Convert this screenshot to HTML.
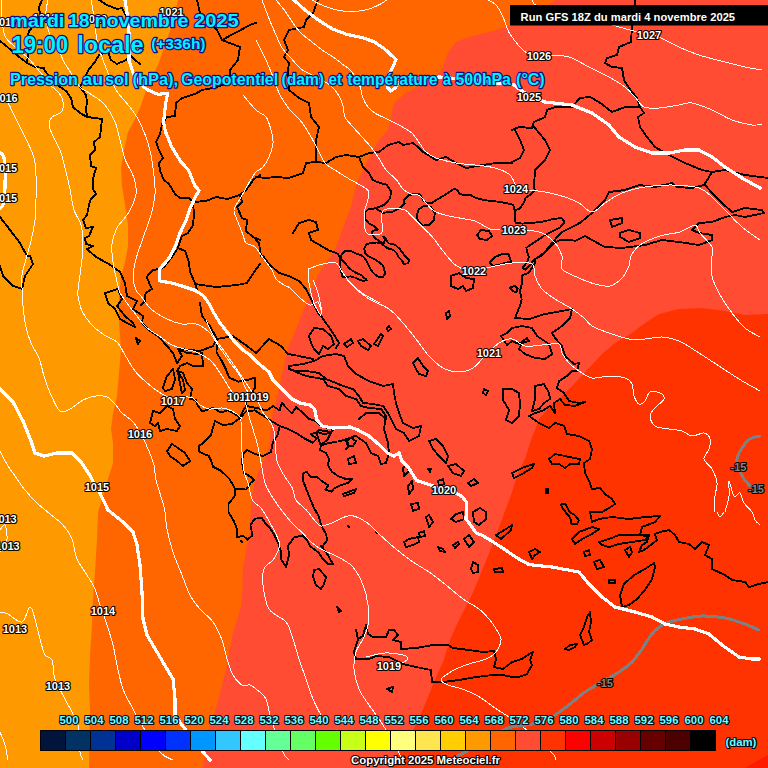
<!DOCTYPE html>
<html><head><meta charset="utf-8"><title>Meteociel GFS</title>
<style>
html,body{margin:0;padding:0;background:#ff6600;overflow:hidden}
svg{display:block}
text{font-family:"Liberation Sans",sans-serif;font-weight:bold}
.ttl{fill:#00f4ff;stroke:#0c0c90;stroke-width:2.4px;paint-order:stroke;stroke-linejoin:round}
.lbl{font-size:11px;fill:#fff;stroke:#000;stroke-width:2.2px;paint-order:stroke;stroke-linejoin:round;text-anchor:middle}
.glb{font-size:11px;fill:#858585;stroke:#000;stroke-width:2px;paint-order:stroke;stroke-linejoin:round;text-anchor:middle}
.cb{font-size:11.3px;fill:#70ffff;stroke:#00081c;stroke-width:2.2px;paint-order:stroke;stroke-linejoin:round;text-anchor:middle}
.iso{shape-rendering:crispEdges;fill:none;stroke:#fff;stroke-width:1;stroke-linejoin:round;stroke-linecap:round}
.geo{shape-rendering:crispEdges;fill:none;stroke:#fff;stroke-width:3.2;stroke-linejoin:round;stroke-linecap:round}
.tmp{shape-rendering:crispEdges;fill:none;stroke:#808080;stroke-width:3;stroke-linejoin:round;stroke-linecap:round}
.cst{shape-rendering:crispEdges;fill:none;stroke:#000;stroke-width:1.9;stroke-linejoin:round;stroke-linecap:round}
</style></head>
<body>
<svg width="768" height="768" viewBox="0 0 768 768">
<g id="fields">
<rect x="0" y="0" width="768" height="768" fill="#ff6600"/>
<path fill="#ff9900" d="M0,0 L178,0 L172,25 L165,45 L158,65 L148,85 L140,108 L135,119 L128,132 L124,150 L121,168 L122,186 L125,205 L128,225 L128,246 L125,262 L121,277 L119,296 L119,323 L121,349 L119,373 L117,396 L113,413 L111,429 L113,443 L113,463 L108,479 L103,496 L98,512 L97,539 L95,572 L93,599 L92,625 L90,655 L89,685 L90,712 L89,768 L0,768 Z"/>
<path fill="#ff4c33" d="M555,0 L549,5 L530,17 L510,26 L489,32 L469,37 L456,42 L448,53 L443,67 L433,80 L406,93 L394,103 L391,117 L388,130 L379,140 L373,150 L368,160 L363,170 L358,180 L354,193 L351,207 L346,220 L341,233 L336,247 L331,256 L319,273 L309,296 L302,314 L295,332 L288.5,346.7 L284.4,363 L281,380 L277,397 L272,417 L270.5,430 L270,444 L264.6,459 L258.5,472 L254.6,483 L251.5,500 L250.4,516.7 L249.4,533 L246.2,550 L244.6,560 L242.8,566.6 L242.4,592 L241,606.7 L237.3,619.4 L233.6,630 L227,665 L222,685 L217,705 L210,725 L207,745 L203,768 L768,768 L768,0 Z"/>
<path fill="#ff3300" d="M768,314 L745,315 L725,311 L702,308 L679,309 L659,314 L645,323 L632,333 L615,343 L602,354 L589,368 L575,383 L562,396 L549,408 L539,419 L535,430 L531,440 L525,458.8 L516.7,477.5 L510.4,496.7 L504.2,513.3 L498,530 L491.7,546.7 L483.3,567.5 L473,592.5 L464.6,609 L456.2,625.8 L450,640 L443,662 L434,682 L426,702 L416,725 L404,745 L394,759 L389,768 L768,768 Z"/>
<path fill="#ff1a00" d="M745,768 L759,760 L768,755 L768,768 Z"/>
</g>
<g id="coast" class="cst">
<path d="M0,41 L5,45 L11,50 L18,56 L27,63 L35,67 L44,68 L45,71 L50,77 L56,84 L66,91 L71,98 L73,107 L80,113 L87,117 L102,119 L100,137 L94,142 L95,150 L90,155 L91,166 L96,168 L93,179 L93,189 L96,194 L91,199 L89,205 L87,215 L83,220 L86,228 L93,227 L89,236 L85,238 L86,244 L93,246 L87,249 L96,257 L109,264 L120,272 L125,283 L127,296 L137,301 L133,309 L143,316 L142,323 L150,331 L158,336 L167,346 L173,353 L177,363 L182,356 L178,349 L187,353 L197,354 L202,353 L203,366 L193,366 L187,363 L180,366 L177,371 L183,373 L187,383 L192,389 L190,399 L196,400 L198,406 L202.5,411.5 L213,408 L221,412.5 L227.5,410.4 L233.8,413.5 L240,417.7 L243,411 L246,406 L256.7,408 L267,410.4 L273,406 L279.6,410.4 L281.7,403 L288,409.4 L292,413.5 L296,407 L302.5,412.5 L308.8,418.8 L315,420.8 L323,427 L333.8,429 L331,432 L318.8,430 L316.7,434 L320.8,445.6 L327,443.5 L337.5,441.5 L348,439 L354,436 M42,0 L39,7 L40,15 L35,24 L29,31 L27,38 L28,55 L27,62 M87,117 L86,109 L87,102 L86,95 L80,87 L86,75 L89,69 L95,62 L99,55 L108,52 L111,60 L117,64 L126,60 L131,56 L135,60 L140,64 M99,0 L107,5 L117,9 L122,8 L126,16 M0,217 L10,230 L20,243 L27,256 L30,256 L33,264 L25,276 L22,289 L13,286 L3,276 L0,266 M202,90 L195,94 L182,98 L176,103 L175,116 L167,117 L162,124 L160,134 L156,142 L159,150 L163,158 L159,163 L160,171 L164,180 L169,184 L175,194 L180,198 L189,198 L193,202 L206,201 L216,197 L227,199 L240,195 L247,189 L254,179 L260,175 M197,0 L200,13 L217,30 L222,40 L240,47 L238,60 L230,70 L230,83 L213,88 L202,90 M193,202 L194,215 L193,225 L188,233 L182,236 L178,248 L185,251 L189,262 L190,272 L195,283 L197,290 M178,248 L172,257 L164,267 L159,269 L153,270 L146.7,276.7 L150,285 L152,289 L145.6,293 L144.6,301.7 L141,305 M240,195 L242,202 L237,207 L242,218 L247,220 L246,231 L253,237 L260,240 M195,284 L216,287 L237,285 L247,283 L254,272 L260,264 M222,40 L235,33 L250,25 L256,23 M318,0 L313,13 L306,20 L304,27 L289,30 L284,40 L288,50 L284,57 L289,63 L288,70 L289,90 L299,98 L309,103 L311,117 L319,127 L316,140 L316,160 M256,177 L266,178 L276,177 L289,178 L303,173 L306,163 L316,162 L326,163 L336,157 L346,155 L359,157 L369,153 L379,152 L388,145 L399,142 L403,145 L413,143 L418,147 L423,152 L436,160 L446,157 L456,163 L466,168 L483,165 L496,163 L512,163 M359,157 L363,167 L369,173 L372.8,180 L379.2,182.7 L386.5,184.6 L391,191 L390.2,198.2 L384.7,204.6 L375.6,208.3 L368.3,209.2 L364.6,212.8 L365.5,219.2 L369.2,223.7 L374.7,226.5 L377.7,229.5 L373.5,230.5 L371.5,233 L373.5,236.2 L376.7,239.4 L380.8,242 L384,243 L385,239.4 L383.4,236.8 L385,237.3 L387,241.5 L389.2,243.5 L393.3,244 L396.5,246 L399.6,248.8 L402.7,253 L405.8,257 L409,260.2 L408,263.3 L403.8,263.9 L401.7,260.2 L398.5,257 L396.5,253 L393.3,249.8 L389.2,248.8 L386,247.2 L384,245.6 L380.8,242.8 L376.7,242.5 L370.4,243 L366.2,244.6 L364.2,248.8 L365.2,253 L368.3,256 L373.5,258.6 L378.8,261.8 L383,265.4 L384.5,270.6 L385,273.8 L383,277 L379.8,277.4 L376.7,275.8 L373.5,273.2 L371,270 L369.4,266.5 L367.3,262.3 L364.7,258 L361,255 L355.8,253.4 L350.6,250.8 L345.4,250.8 L342.3,253.4 L340.7,257 L342.3,260.2 L345.4,263.3 L348.5,267.5 L352.7,271 L358,273.8 L362.6,275.8 L363,277.4 L366.2,279.2 L366.8,280.2 L363,280.8 L359,279.5 L354.8,277.6 L350.6,276.4 L346.5,276.7 L342.3,276.9 L341.2,271.7 L339.7,265.4 L339.7,257 L338,254 L335,252.4 L330,251 L323,247 L311,240 L309,233 L318,230 L316,222 L309,220 L299,223 L293,233 M375.6,208.3 L382.9,212.8 L392,211.9 L399.3,208.3 L404.7,203.7 L403.8,200 L408.4,195.5 L415.7,193.7 L420.2,194.6 L423,200 L426.6,202.8 L432,202.8 L439.4,198.2 L446.7,193.7 L454,189 L457.6,190 L459.4,193.7 L464.9,195.5 L470,194.6 L475.6,197.8 L483.4,200 L491.2,201 L499,201.7 L506.9,203.3 L513,204.8 L514.7,210.3 L515.5,222.8 L522.5,223.6 L533.4,222.8 L544.4,221.3 L553.8,218.9 L561.6,218 L564.7,222 L560,227.5 L552,231.4 L544.4,235.3 L538,240 L531.9,243.9 L526.4,247.8 L527.2,252.5 L528.8,257.2 L527.2,261.9 L522.5,268 L525.6,269.7 L530.3,265 L533.4,260.3 L538,257.2 L544.4,252.5 L550.6,244.7 L553.8,241.6 L556.9,236.9 L563,231.4 M489.7,262.7 L494.4,257.2 L502.2,254 L508.4,254 L510,258.8 L511.6,261.9 L505.3,262.7 L499,265 L492.8,265.8 L489.7,262.7 M510,287.7 L514.7,286 L517.8,288.4 L516.2,292.3 L512.3,290.8 L510,287.7 M514.7,210.3 L519.4,208.8 L524,202.5 L525.6,197.8 L530.3,194.7 L535,190 M416.6,215 L419,209 L425,205.5 L431,207 L434.8,213 L434,220 L429,225 L423,225.6 L418,221 L416.6,215 M477,235 L481,230 L489,231 L492,236 L487,240 L480,239 L477,235 M256,240 L259,243 L261,256 M635,0 L635,5 M632,26 L631,42 L619,47 L617,55 L607,58 L605,63 L612,67 L622,68 L624,80 L629,88 L637,98 L640,107 L644,113 L638,117 L640,127 L647,137 L655,147 L669,155 L685,163 L702,170 L712,172 L725,170 L745,175 L768,178 M512,130 L519,127 L532,128 L534,122 L545,117 L547,110 L555,107 L572,107 L580,98 L590,97 L599,102 L612,112 L625,107 L640,107 M515,130 L520,140 L524,150 L520,158 L512,162 M534,127 L545,140 L550,150 L545,160 L535,170 L534,187 L535,190 M563,231.4 L572.5,226.7 L580,222.8 L592,213 L605,200 L609,192 L625,190 L639,185 L655,187 L672,183 L677,187 L692,188 L704,185 L709,177 L712,172 M705,185 L712,193 L722,203 L732,212 L745,208 L762,210 L764,213 L745,217 L735,215 L725,217 L712,222 L699,223 L692,230 L699,233 L712,235 L712,240 L699,245 L679,242 L662,240 L645,245 L622,248 L605,247 L592,240 L585,236 L580,238.4 L575.6,240.8 L569.4,240 L560,240 L553.8,243 L547.5,249.4 L541.2,255.6 L535,259 L535,263.4 L528.8,272.8 L522.5,275 L521.7,283.8 L520,291.6 L521.7,299.4 L520,305.6 L517,313 L515,318 L529,319 L545,314 L562,311 L572,309 L570,318 L562,326 L552,333 L555,338 L562,346 L565,356 L574,364 L579,363 L577,371 L572,371 L567,376 L559,381 L557,388 L564,393 L569,401 L579,403 L585,402 L575,406 L565,405 L560,399 L554,403 L555,413 L550,406 L542,411 L535,413 L529,416 L539,423 L549,428 L555,423 L564,426 L567,434 L579,436 L589,441 L592,449 L590,459 L584,463 L585,473 L590,483 L592,489 L600,488 L605,494 L612,499 L615,504 L609,508 L602,512 L590,512 L592,522 L599,519 L612,517 L629,519 L645,517 L660,516 L655,522 L642,527 L640,535 L649,535 L647,542 L642,545 L639,552 L644,550 L652,544 L657,540 L655,534 L660,532 L669,530 L675,535 L679,542 L689,544 L695,549 L702,542 L709,545 L705,555 L712,559 L712,569 L725,575 L732,580 L745,582 L749,587 L759,584 L768,582 M610,220 L622,218 L622,223 L612,227 L610,220 M620,233 L629,230 L640,233 L640,238 L629,242 L620,237 L620,233 M105,293 L118,289 L122,299 L117,306 L125,316 L133,323 L135,327 L127,323 L120,319 L115,309 L108,303 L105,293 M136,338 L140,341 L138,344 L136,338 M163,388 L167,376 L173,369 L175,379 L172,389 L165,391 L163,388 M178,372 L183,380 L185,390 L182,393 L180,384 L178,372 M150,423 L153,411 L160,413 L167,406 L173,409 L175,419 L180,426 L177,431 L167,429 L160,431 L158,423 L155,426 L150,423 M167,451 L172,444 L178,448 L185,453 L190,461 L183,466 L177,461 L170,456 L167,451 M240,418 L231.7,424 L223,425 L215,420.8 L210.8,435.4 L204.6,441.7 L199.4,445.8 L199.4,452 L208.8,456 L211.9,462.5 L212.9,466.7 L221,470.8 L229.6,479 L234.8,488.5 L234.8,495.8 L228.5,504 L228.5,512.5 L233.8,520.8 L236.9,529 L236.9,537.5 L243,535.4 L247.3,539.6 L252.5,535.4 L250.4,525 L254.6,518.8 L261.9,517.7 L265,523 L269,527 L273.3,533 L277.5,541.7 L280.6,550 L281,559 L286,567 L289,555 L288,545.8 L294,537.5 L302.5,535.4 L306.7,539.6 L309.8,545.8 L315,550 L318,552 L323,559 L328,564 L333,564 L326,552 L321,545.8 L323,545.8 L327.5,539.6 L325.4,533 L321,525 L319,516.7 L314,508 L309.8,498 L305.6,487.5 L302.5,479 L303.5,473 L306.7,472 L310.8,477 L317,477 L323,482 L328.5,485.4 L325.4,489.6 L331.7,491.7 L333.8,488.5 L340,485.4 L348,483 L352,479 L345.8,479 L337.5,475.8 L332,471.7 L328,465.4 L329,459 L326,453 L320,450 L321,444.8 L327.5,439.6 L331.7,431 L325.4,434.4 L317,432 L310.8,434.4 L317,438.5 L313,442.7 L304.6,438.5 L296,433 L288,429 L279.6,426 L271,420.8 L263,415.6 L254.6,410.4 L246,411.5 L240,418 M234.8,488.5 L246,489.6 L250.4,483 L254.6,480 L248,475 L244,473 L242,462.5 L243,454 L247.3,450 L254.6,454 L263,456 L271,452 L273,441.7 L277.5,435.4 L279.6,426 M200,303 L202,316 L210,326 L217,339 L213,346 L200,351 L180,349 M217,339 L233,336 L247,346 L256,353 L269,339 L281,346 L288,354 L299,356 L313,359 M217,339 L216.5,352.5 L221.7,360.8 L225.8,369 L229,377.5 L238.3,381.7 L248.8,379.6 L255,377.5 L255,388 L250.8,394 L246.7,400.4 L245.6,406.7 M241,541 L242,542 M261,256 L263,256 L269,264 L279,273 L289,276 L299,281 L306,289 L313,303 L318,313 L321,316 L326,323 L333,333 L339,343 L336,348 M309,336 L314,328 L323,329 L331,336 L334,344 L328,349 L323,346 L319,354 L314,349 L311,343 L309,336 M289,366 L303,364 L314,361 L323,356 L336,354 L344,356 L348,366 L356,374 L369,381 L383,386 L393,384 L394,393 L396,403 L399,413 L403,423 L413,428 L421,426 L419,436 L409,441 L404,433 L396,429 L391,419 L388,413 L383,406 L373,404 L363,403 L359,396 L353,389 L343,386 L336,383 L326,379 L319,373 L306,371 L296,371 L289,369 L289,366 M289,369 L306,376 L323,379 L328,386 L339,389 L346,396 L356,399 L361,406 L369,408 L381,409 L386,416 L384,429 L388,443 L389,453 L386,463 L381,464 L378,456 L371,453 L366,443 L356,436 L346,439 L349,446 L346,449 M359,419 L366,413 L379,413 L386,419 M344,344 L351,339 L353,343 L347,347 L344,344 M358,341 L363,339 L371,346 L368,350 L361,346 L358,341 M374,344 L381,334 L383,336 L378,346 L374,344 M387,328 L389,326 L391,329 L388,331 L387,328 M413,363 L418,358 L423,366 L428,371 L426,376 L419,374 L416,369 L413,363 M451,276 L459,273 L466,278 L474,279 L473,288 L466,291 L463,286 L458,289 L451,286 L451,276 M446,313 L449,311 L450,316 L447,319 L446,313 M484,389 L488,391 L486,395 L483,393 L484,389 M429,441 L436,439 L443,446 L448,456 L446,463 L439,456 L433,449 L429,441 M448,466 L456,464 L464,471 L461,476 L453,473 L448,466 M468,483 L474,479 L478,483 L471,486 L468,483 M403,468 L406,464 L409,471 L404,476 L403,468 M408,486 L412,481 L413,489 L409,494 L408,486 M438,481 L443,479 L444,484 L439,486 L438,481 M428,469 L431,469 L430,472 L428,469 M411,504 L418,503 L419,509 L413,511 L411,504 M346,441 L351,438 L356,441 L353,446 L348,446 L346,441 M343,494 L356,489 L354,493 L344,496 L343,494 M348,459 L354,456 L356,463 L349,464 L348,459 M501,336 L507,333 L512,328 L522,326 L532,328 L537,336 L549,344 L552,354 L545,359 L535,358 L525,354 L519,349 L522,343 L529,341 L527,338 L519,344 L512,341 L507,345 L501,336 M503,389 L512,389 L519,393 L520,403 L519,416 L512,423 L506,420 L509,410 L503,400 L503,389 M549,459 L555,454 L565,456 L574,458 L580,459 L579,464 L570,464 L565,468 L559,464 L552,464 L549,459 M512,473 L522,468 L534,464 L532,468 L522,474 L514,478 L512,473 M546,489 L548,489 L548,493 L546,493 L546,489 M535,386 L544,384 L549,393 L550,399 L544,403 L539,409 L532,411 L535,399 L535,386 M314,570 L319,569 L326,577 L324,584 L321,589 L316,585 L313,577 L314,570 M337,607 L341,611 L339,612 L337,607 M356,630 L358,639 L354,652 L356,659 L369,659 L376,656 L389,657 L403,664 L416,667 L431,670 L432,682 L443,682 L459,680 L476,677 L493,675 L503,675 L512,677 L519,677 L527,674 L532,665 L530,660 L533,652 L529,654 L522,659 L512,662 L503,669 L494,667 L496,659 L494,651 L483,652 L469,650 L453,648 L448,645 L433,645 L416,648 L401,649 L401,642 L393,640 L398,635 L394,630 L389,630 L386,637 L373,637 L368,634 L366,625 L363,636 L358,639 M387,689 L393,687 L392,692 L387,689 M404,542 L409,539 L418,537 L419,542 L413,545 L406,547 L404,542 M419,533 L424,531 L425,536 L420,537 L419,533 M426,517 L429,515 L433,522 L429,527 L426,517 M438,547 L443,549 L445,552 L440,551 L438,547 M453,545 L458,542 L459,544 L455,548 L453,545 M464,539 L469,535 L474,542 L469,547 L464,539 M451,519 L456,514 L463,512 L464,519 L456,522 L451,519 M473,512 L474,522 L479,525 L486,519 L486,512 L480,508 L473,512 M496,535 L506,529 L512,525 L511,530 L501,539 L496,535 M471,569 L473,562 L478,565 L478,572 L473,573 L471,569 M494,569 L502,568 L503,572 L495,572 L494,569 M348,526 L349,527 M376,532 L377,533 M561,504.6 L565.2,503.5 L569.4,511.9 L574.6,515 L578.8,520.2 L576.7,524.4 L571.5,524.4 L570.4,518.1 L566.2,512.9 L563,508.8 L561,504.6 M572,539 L579,532 L592,527 L599,529 L592,534 L582,539 L575,544 L572,539 M599,542 L609,539 L619,535 L635,535 L649,536 L645,540 L632,542 L619,544 L609,547 L602,545 L599,542 M625,550 L630,547 L632,552 L629,557 L625,550 M584,552 L589,550 L590,555 L585,556 L584,552 M594,562 L600,560 L604,567 L597,569 L594,562 M529,552 L535,549 L540,552 L535,555 L532,559 L529,552 M609,580 L615,580 L615,583 L609,583 L609,580 M622,607 L620,595 L624,584 L634,575 L645,569 L654,563 L655,567 L652,579 L645,590 L637,599 L629,605 L622,607 M584,645 L580,635 L584,627 L587,617 L590,612 L591,622 L589,632 L592,640 L587,644 L584,645 M565,649 L570,645 L577,644 L575,647 L569,650 L565,649"/>
</g>
<g id="isobars" class="iso">
<path d="M0,93 C1.3,94.7 5.3,98.7 8,103 C10.7,107.3 13,113 16,119 C19,125 23,132.5 26,139 C29,145.5 32.3,151.8 34,158 C35.7,164.2 35.7,169.2 36,176 C36.3,182.8 36.2,191.7 36,199 C35.8,206.3 35.8,213 35,220 C34.2,227 32.5,234.5 31,241 C29.5,247.5 27.5,253.3 26,259 C24.5,264.7 22.7,270.2 22,275 C21.3,279.8 21.8,282.8 22,288 C22.2,293.2 22.3,299.5 23,306 C23.7,312.5 24.7,320.8 26,327 C27.3,333.2 28.8,337.8 31,343 C33.2,348.2 36.8,352.5 39,358 C41.2,363.5 42,369.8 44,376 C46,382.2 48.3,389.2 51,395 C53.7,400.8 56.8,408.7 60,411 C63.2,413.3 66.2,410.8 70,409 C73.8,407.2 78.7,402.2 83,400 C87.3,397.8 92,396.5 96,396 C100,395.5 103.8,395.7 107,397 C110.2,398.3 112.5,401.3 115,404 C117.5,406.7 119,410 122,413 C125,416 129.7,418.2 133,422 C136.3,425.8 139.5,431.5 142,436 C144.5,440.5 146,444.2 148,449 C150,453.8 152.7,459.8 154,465 C155.3,470.2 154.5,473.7 156,480 C157.5,486.3 161.5,497.7 163,503 C164.5,508.3 164.3,507.7 165,512 C165.7,516.3 165.7,522.3 167,529 C168.3,535.7 170.5,544.3 173,552 C175.5,559.7 179.2,567.8 182,575 C184.8,582.2 187,589.3 190,595 C193,600.7 196.2,604.5 200,609 C203.8,613.5 209.3,616.8 213,622 C216.7,627.2 219.7,633.8 222,640 C224.3,646.2 225.2,653.2 227,659 C228.8,664.8 230.5,670.7 233,675 C235.5,679.3 239.2,683.3 242,685 C244.8,686.7 247.7,684.3 250,685 C252.3,685.7 253.3,686.7 256,689 C258.7,691.3 263.5,694 266,699 C268.5,704 268.2,710.2 271,719 C273.8,727.8 280,745.2 283,752 C286,758.8 288,758.7 289,760 M2,0 C2,3 1.5,12 2,18 C2.5,24 2.8,31.2 5,36 C7.2,40.8 11.2,43.3 15,47 C18.8,50.7 23.8,53.8 28,58 C32.2,62.2 36.2,67.3 40,72 C43.8,76.7 48.5,83.2 51,86 C53.5,88.8 53.2,87 55,89 C56.8,91 60.8,94.3 62,98 C63.2,101.7 63.7,107.8 62,111 C60.3,114.2 54.2,114.8 52,117 C49.8,119.2 49,121.2 49,124 C49,126.8 50.2,129.7 52,134 C53.8,138.3 57.8,144.3 60,150 C62.2,155.7 63.3,161.5 65,168 C66.7,174.5 68.5,182 70,189 C71.5,196 72.2,204 74,210 C75.8,216 79.5,219 81,225 C82.5,231 83,239 83,246 C83,253 81.8,259.7 81,267 C80.2,274.3 78.5,285.2 78,290 C77.5,294.8 77.3,292.5 78,296 C78.7,299.5 79.8,306.3 82,311 C84.2,315.7 87.3,320 91,324 C94.7,328 99.7,332 104,335 C108.3,338 113.5,338.7 117,342 C120.5,345.3 122,350.2 125,355 C128,359.8 131.5,366.5 135,371 C138.5,375.5 142,378.5 146,382 C150,385.5 154.5,389.2 159,392 C163.5,394.8 168.5,398.2 173,399 C177.5,399.8 182.7,397.2 186,397 C189.3,396.8 190.7,396.7 193,398 C195.3,399.3 197.3,403.2 200,405 C202.7,406.8 205.3,408.5 209,409 C212.7,409.5 218.2,407.7 222,408 C225.8,408.3 228.8,409.3 232,411 C235.2,412.7 239.5,416.3 241,418 C242.5,419.7 240.8,415.3 241,421 C241.2,426.7 241.5,443.7 242,452 C242.5,460.3 243,465.8 244,471 C245,476.2 246.6,478.2 248,483 C249.4,487.8 250.3,495.8 252.5,500 C254.7,504.2 258.2,504.5 261,508 C263.8,511.5 266.6,516.8 269,521 C271.4,525.2 273.6,529.2 275.4,533 C277.2,536.8 279.2,540.6 279.6,543.8 C280,547 278.6,549.3 277.5,552 C276.4,554.7 275.2,557.2 273,560 C270.8,562.8 265.7,564.8 264,569 C262.3,573.2 262.2,578.3 263,585 C263.8,591.7 265.2,602.8 269,609 C272.8,615.2 282,617 286,622 C290,627 290.8,632.8 293,639 C295.2,645.2 296.8,652.3 299,659 C301.2,665.7 303.7,672.3 306,679 C308.3,685.7 310.2,692.3 313,699 C315.8,705.7 321.3,715.7 323,719 M48,0 C47.7,1.8 46.2,6.8 46,11 C45.8,15.2 46,20.2 47,25 C48,29.8 49.8,35.3 52,40 C54.2,44.7 58,49.3 60,53 C62,56.7 62.2,58.7 64,62 C65.8,65.3 68.3,68.8 71,73 C73.7,77.2 77,83.7 80,87 C83,90.3 85,90.2 89,93 C93,95.8 99.7,99.2 104,104 C108.3,108.8 112.3,116 115,122 C117.7,128 118.3,133.8 120,140 C121.7,146.2 122.7,152.7 125,159 C127.3,165.3 132.2,172.2 134,178 C135.8,183.8 136.8,188.3 136,194 C135.2,199.7 132.2,206.3 129,212 C125.8,217.7 119.8,222.7 117,228 C114.2,233.3 112.7,238.3 112,244 C111.3,249.7 112.3,256.5 113,262 C113.7,267.5 115,272.3 116,277 C117,281.7 118,286.8 119,290 C120,293.2 119.7,292.5 122,296 C124.3,299.5 129,305.8 133,311 C137,316.2 141.7,322.8 146,327 C150.3,331.2 154.7,333 159,336 C163.3,339 167.2,342.7 172,345 C176.8,347.3 184,348.8 188,350 C192,351.2 192.2,350.2 196,352 C199.8,353.8 206.7,357 211,361 C215.3,365 218.5,370.8 222,376 C225.5,381.2 229.2,388.5 232,392 C234.8,395.5 236.8,395.3 239,397 C241.2,398.7 243.1,398 245,402 C246.9,406 248.5,414.4 250.4,421 C252.3,427.6 254.9,434.8 256.7,441.7 C258.5,448.6 259.6,455.6 261,462.5 C262.4,469.4 263,477.1 265,483 C267,488.9 270.2,493.4 273,498 C275.8,502.6 278.5,506.2 281.7,510.4 C284.9,514.6 288.5,519.2 292,523 C295.5,526.8 299.4,529.9 302.5,533 C305.6,536.1 308.1,539.2 310.8,541.7 C313.6,544.2 315.5,546 319,548 C322.5,550 328.2,552.3 331.7,554 C335.2,555.7 336.4,555.8 340,558 C343.6,560.2 349.2,562.5 353,567 C356.8,571.5 360.5,578.7 363,585 C365.5,591.3 367.2,598.3 368,605 C368.8,611.7 368.8,619.3 368,625 C367.2,630.7 365,634.5 363,639 C361,643.5 357.5,647 356,652 C354.5,657 353.5,662.8 354,669 C354.5,675.2 356.5,683 359,689 C361.5,695 365.3,699.5 369,705 C372.7,710.5 376.7,715.3 381,722 C385.3,728.7 391,737.8 395,745 C399,752.2 403.3,761.7 405,765 M91,0 C91.3,1.8 92.3,6.5 93,11 C93.7,15.5 94.2,21.3 95,27 C95.8,32.7 96.7,39.5 98,45 C99.3,50.5 101.2,55 103,60 C104.8,65 106.8,70 109,75 C111.2,80 112.7,84.8 116,90 C119.3,95.2 125.3,101.2 129,106 C132.7,110.8 135.2,113.8 138,119 C140.8,124.2 143.8,131 146,137 C148.2,143 149.7,148.5 151,155 C152.3,161.5 153.3,169.5 154,176 C154.7,182.5 155.5,187.5 155,194 C154.5,200.5 153,207.7 151,215 C149,222.3 145.5,230.7 143,238 C140.5,245.3 137.7,252.5 136,259 C134.3,265.5 133,271.8 133,277 C133,282.2 134.7,286.8 136,290 C137.3,293.2 138.5,292.8 141,296 C143.5,299.2 146.7,305.2 151,309 C155.3,312.8 161.8,316.5 167,319 C172.2,321.5 177.2,323.2 182,324 C186.8,324.8 191.5,322.7 196,324 C200.5,325.3 205.7,329 209,332 C212.3,335 212.7,337.2 216,342 C219.3,346.8 225,355.3 229,361 C233,366.7 237.2,371.3 240,376 C242.8,380.7 244,385.7 246,389 C248,392.3 250,393.8 252,396 C254,398.2 256.2,399.2 258,402 C259.8,404.8 260.8,409 263,412.5 C265.2,416 269.1,419.6 271,423 C272.9,426.4 273.7,428.8 274.4,433 C275.1,437.2 274.9,443.1 275.4,448 C275.9,452.9 276.1,458 277.5,462.5 C278.9,467 281.4,470.8 283.8,475 C286.2,479.2 290,483.3 292,487.5 C294,491.7 293.6,496.2 296,500 C298.4,503.8 303.5,506.9 306.7,510.4 C309.9,513.9 312.6,518.2 315,520.8 C317.4,523.4 318.2,525.6 321,526 C323.8,526.4 326.9,524.7 331.7,523 C336.5,521.3 344.3,515.8 350,515.6 C355.7,515.4 361.2,518.9 366,522 C370.8,525.1 374,529.5 379,534 C384,538.5 390.3,544.3 396,549 C401.7,553.7 407.5,558.2 413,562 C418.5,565.8 423.5,568.2 429,572 C434.5,575.8 440.3,580.5 446,585 C451.7,589.5 457.5,595 463,599 C468.5,603 474.7,605.7 479,609 C483.3,612.3 485.8,615.2 489,619 C492.2,622.8 496,628.5 498,632 C500,635.5 501.3,636.7 501,640 C500.7,643.3 498.5,648.8 496,652 C493.5,655.2 490.5,657 486,659 C481.5,661 474,662.3 469,664 C464,665.7 459.8,667.2 456,669 C452.2,670.8 448.5,673.2 446,675 C443.5,676.8 440.7,678.3 441,680 C441.3,681.7 444.5,683.5 448,685 C451.5,686.5 457,687.2 462,689 C467,690.8 472.5,692.8 478,696 C483.5,699.2 489.8,704.5 495,708 C500.2,711.5 504.5,714 509,717 C513.5,720 517.7,722.5 522,726 C526.3,729.5 530.5,734 535,738 C539.5,742 545.8,747.2 549,750 C552.2,752.8 552.8,753.3 554,755 C555.2,756.7 555.7,759.2 556,760 M206,320 C207.3,322.8 210.5,331.2 214,337 C217.5,342.8 222.7,348.8 227,355 C231.3,361.2 236.2,368.3 240,374 C243.8,379.7 247.3,385.2 250,389 C252.7,392.8 255,395.7 256,397 M243,95 C245.2,97.5 252.2,106.3 256,110 C259.8,113.7 263.5,113.7 266,117 C268.5,120.3 269.8,125.7 271,130 C272.2,134.3 273.3,138.5 273,143 C272.7,147.5 270.7,153 269,157 C267.3,161 265.2,164.5 263,167 C260.8,169.5 258.2,169.7 256,172 C253.8,174.3 252.7,176.5 250,181 C247.3,185.5 242.7,194.2 240,199 C237.3,203.8 234.3,206.2 234,210 C233.7,213.8 236.5,217.8 238,222 C239.5,226.2 241.7,231.5 243,235 C244.3,238.5 244,241 246,243 C248,245 252.2,244.5 255,247 C257.8,249.5 260.2,254.2 263,258 C265.8,261.8 269.8,266.5 272,270 C274.2,273.5 274,276.5 276,279 C278,281.5 281.7,283.5 284,285 C286.3,286.5 287.3,285.8 290,288 C292.7,290.2 296.7,295.2 300,298 C303.3,300.8 307,304.3 310,305 C313,305.7 316,300.5 318,302 C320,303.5 322,315.5 322,314 C322,312.5 319.5,298.7 318,293 C316.5,287.3 313.8,282.2 313,280 M0,451 C1.3,453.5 5.5,461.8 8,466 C10.5,470.2 12.2,472 15,476 C17.8,480 21.3,485.5 25,490 C28.7,494.5 32.8,499 37,503 C41.2,507 45.7,510.3 50,514 C54.3,517.7 59.3,520.8 63,525 C66.7,529.2 69.7,533.3 72,539 C74.3,544.7 74.5,553 77,559 C79.5,565 84,570 87,575 C90,580 92.8,584 95,589 C97.2,594 98,599 100,605 C102,611 104.8,618.3 107,625 C109.2,631.7 111.3,638.3 113,645 C114.7,651.7 115.3,657.7 117,665 C118.7,672.3 120.3,681.7 123,689 C125.7,696.3 130.2,703.5 133,709 C135.8,714.5 135.5,714.8 140,722 C144.5,729.2 154.5,745.7 160,752 C165.5,758.3 170.8,758.7 173,760 M0,530 C0.8,529.2 3.8,523.5 5,525 C6.2,526.5 7.3,535 7,539 C6.7,543 4.2,546.8 3,549 C1.8,551.2 0.5,551.5 0,552 M0,612 C1.3,612.3 4.3,612.3 8,614 C11.7,615.7 18.3,623.2 22,622 C25.7,620.8 27.8,607.5 30,607 C32.2,606.5 33.3,613.7 35,619 C36.7,624.3 38.3,633 40,639 C41.7,645 43,651.5 45,655 C47,658.5 50.3,656 52,660 C53.7,664 52.8,672.5 55,679 C57.2,685.5 62.2,693.5 65,699 C67.8,704.5 69.8,707.7 72,712 C74.2,716.3 76.7,718.3 78,725 C79.3,731.7 79.2,746.2 80,752 C80.8,757.8 82.5,758.7 83,760 M0,732 C0.8,734.2 3.7,740.3 5,745 C6.3,749.7 7.5,757.5 8,760 M262,0 C263.3,3.5 267.7,15.2 270,21 C272.3,26.8 274,30.5 276,35 C278,39.5 279.5,44.2 282,48 C284.5,51.8 287.8,54.5 291,58 C294.2,61.5 297.5,66.2 301,69 C304.5,71.8 307.2,72.3 312,75 C316.8,77.7 325.5,81.5 330,85 C334.5,88.5 336.8,92.5 339,96 C341.2,99.5 342,102.5 343,106 C344,109.5 343.3,113.5 345,117 C346.7,120.5 350.2,123.7 353,127 C355.8,130.3 359.2,133.8 362,137 C364.8,140.2 367.7,143.2 370,146 C372.3,148.8 374.3,151.7 376,154 C377.7,156.3 378.3,157.3 380,160 C381.7,162.7 383.2,166.7 386,170 C388.8,173.3 393.7,176.8 396.5,180 C399.3,183.2 400.7,186.7 403,189 C405.3,191.3 407.5,192.6 410.2,193.7 C412.9,194.8 416.6,193.8 419.3,195.5 C422,197.2 424.2,201.1 426.6,203.7 C429.1,206.3 430.6,209 434,211 C437.4,213 442.2,214.3 446.7,215.5 C451.2,216.7 456.2,217.3 461,218.3 C465.8,219.3 470.8,219.5 475.6,221.2 C480.4,223 485.6,227.5 489.7,229 C493.8,230.5 498.3,229.8 500,230 M311.7,0 C313.8,1 319.5,4.3 324,6 C328.5,7.7 334,9.5 338.8,10.4 C343.6,11.3 348.1,11.7 353,11.5 C357.9,11.3 363.4,10.7 368,9.4 C372.6,8.2 377.3,5.6 380.4,4 C383.5,2.4 385.6,0.7 386.7,0 M256,40 C257.7,43.3 263.2,53.8 266,60 C268.8,66.2 270.7,71.2 273,77 C275.3,82.8 277.2,89.5 280,95 C282.8,100.5 286.7,105.8 290,110 C293.3,114.2 296.7,115.8 300,120 C303.3,124.2 307,130 310,135 C313,140 315.5,145.3 318,150 C320.5,154.7 321.7,159.3 325,163 C328.3,166.7 333.7,169.2 338,172 C342.3,174.8 347.2,177.8 351,180 C354.8,182.2 358.1,183.7 361,185.5 C363.9,187.3 367.2,188.3 368.3,191 C369.4,193.7 368,198.6 367.4,201.9 C366.8,205.2 364.9,206.2 364.6,211 C364.3,215.8 364.3,227.1 365.5,231 C366.7,234.9 369.2,234.5 372,234.7 C374.8,234.9 380.2,235.9 382,232 C383.8,228.1 379.4,214.8 382.9,211 C386.4,207.2 398.3,208.6 402.9,209.2 C407.4,209.8 407.2,211.9 410.2,214.6 C413.2,217.3 417.5,221.9 421.1,225.6 C424.7,229.2 428.4,232.3 432,236.5 C435.6,240.7 439.3,246.4 443,251 C446.7,255.6 450.7,260.8 454,263.8 C457.3,266.9 461.5,268.4 463,269.3 M276,0 C277.4,1.7 281.8,6.6 284.6,10.4 C287.4,14.2 290.3,19.2 293,23 C295.7,26.8 297.9,29.9 301,33 C304.1,36.1 308.2,38.9 311.7,41.7 C315.2,44.5 318.2,47.3 322,50 C325.8,52.7 331.1,55.6 334.6,58 C338.1,60.4 340.3,62.5 343,64.6 C345.7,66.7 348.2,67.3 351,70.8 C353.8,74.3 357.8,81.6 359.6,85.4 C361.4,89.2 360.7,90.7 361.7,93.8 C362.7,96.9 363.8,100.9 365.8,104 C367.9,107.1 370.5,110 374,112.5 C377.5,115 382.5,116.7 386.7,118.8 C390.9,120.9 394.8,122.6 399,125 C403.2,127.4 408.2,129.9 411.7,133 C415.2,136.1 417.6,140.6 420,143.8 C422.4,147 423.3,149.6 426,152 C428.7,154.4 431,156.2 436,158 C441,159.8 449.5,161.8 456,163 C462.5,164.2 468.5,164.2 475,165 C481.5,165.8 489.2,166.3 495,168 C500.8,169.7 506.3,171.5 510,175 C513.7,178.5 515.8,186.7 517,189 M488,0 C489.3,0.8 493.5,2.2 496,5 C498.5,7.8 501.2,13.2 503,17 C504.8,20.8 505.5,24.7 507,28 C508.5,31.3 508.7,32.8 512,37 C515.3,41.2 520.7,50 527,53 C533.3,56 543,54.3 550,55 C557,55.7 562.5,55 569,57 C575.5,59 582.3,63.7 589,67 C595.7,70.3 603,73.7 609,77 C615,80.3 620.7,83.7 625,87 C629.3,90.3 631.8,93.7 635,97 C638.2,100.3 640,105.2 644,107 C648,108.8 653.2,108.3 659,108 C664.8,107.7 673.5,105.8 679,105 C684.5,104.2 686.5,102.2 692,103 C697.5,103.8 705.3,107.2 712,110 C718.7,112.8 725.3,117.5 732,120 C738.7,122.5 747,124.3 752,125 C757,125.7 760.3,124.2 762,124 M532,0 C532.8,1 532.3,3.7 537,6 C541.7,8.3 549.5,11.3 560,14 C570.5,16.7 588.3,19.3 600,22 C611.7,24.7 621.8,27.8 630,30 C638.2,32.2 644.2,33.8 649,35 C653.8,36.2 654,35 659,37 C664,39 672.3,44 679,47 C685.7,50 691.3,52.5 699,55 C706.7,57.5 717.3,60 725,62 C732.7,64 738.8,65.7 745,67 C751.2,68.3 759.2,69.5 762,70 M527,190 C530,190.3 538.7,190.8 545,192 C551.3,193.2 559.3,195.2 565,197 C570.7,198.8 574.5,200.5 579,203 C583.5,205.5 587.7,212 592,212 C596.3,212 600,206.2 605,203 C610,199.8 615.3,195.7 622,193 C628.7,190.3 636.7,188.3 645,187 C653.3,185.7 663,184.8 672,185 C681,185.2 692.3,186 699,188 C705.7,190 707.7,193.3 712,197 C716.3,200.7 720,205 725,210 C730,215 736.2,222 742,227 C747.8,232 757,237.8 760,240 M527,230 C529.5,230.5 537.3,230.8 542,233 C546.7,235.2 551.7,239.2 555,243 C558.3,246.8 560.8,251.7 562,256 C563.2,260.3 559.2,265.3 562,269 C564.8,272.7 573.5,275.5 579,278 C584.5,280.5 589.8,282.7 595,284 C600.2,285.3 605.5,287 610,286 C614.5,285 618.8,281.3 622,278 C625.2,274.7 627.5,269.7 629,266 C630.5,262.3 629.2,259.5 631,256 C632.8,252.5 635.2,248.3 640,245 C644.8,241.7 653.3,238.2 660,236 C666.7,233.8 674.2,233.8 680,232 C685.8,230.2 691.7,224.8 695,225 C698.3,225.2 697.2,229.3 700,233 C702.8,236.7 710,243.2 712,247 C714,250.8 712,251.2 712,256 C712,260.8 710.8,269.8 712,276 C713.2,282.2 715.7,286.8 719,293 C722.3,299.2 727.7,307.2 732,313 C736.3,318.8 740.3,324 745,328 C749.7,332 757.5,335.5 760,337 M308,269 C310.5,268.2 318.3,265 323,264 C327.7,263 332.7,261.5 336,263 C339.3,264.5 340.2,269.2 343,273 C345.8,276.8 348.7,281.7 353,286 C357.3,290.3 363,295.2 369,299 C375,302.8 383.3,305 389,309 C394.7,313 398.5,318 403,323 C407.5,328 411.7,333.5 416,339 C420.3,344.5 424.5,351.2 429,356 C433.5,360.8 438,365.3 443,368 C448,370.7 454,372 459,372 C464,372 469,370.3 473,368 C477,365.7 478.7,362.2 483,358 C487.3,353.8 494.2,346.2 499,343 C503.8,339.8 507.7,338.5 512,339 C516.3,339.5 520,345 525,346 C530,347 536.3,345.3 542,345 C547.7,344.7 555.7,342.7 559,344 C562.3,345.3 560.3,349.8 562,353 C563.7,356.2 566.2,360 569,363 C571.8,366 575.2,368.5 579,371 C582.8,373.5 587,377.2 592,378 C597,378.8 603.5,376 609,376 C614.5,376 621.2,376.7 625,378 C628.8,379.3 630.5,381 632,384 C633.5,387 632.8,392.7 634,396 C635.2,399.3 637.2,403.2 639,404 C640.8,404.8 643.2,403 645,401 C646.8,399 647.5,393.3 650,392 C652.5,390.7 657.7,391.8 660,393 C662.3,394.2 664.8,396.5 664,399 C663.2,401.5 657.3,405.2 655,408 C652.7,410.8 650,413 650,416 C650,419 651.8,423.8 655,426 C658.2,428.2 664.5,428.2 669,429 C673.5,429.8 678.2,429.8 682,431 C685.8,432.2 688.3,435.7 692,436 C695.7,436.3 701,432.5 704,433 C707,433.5 709.2,436.3 710,439 C710.8,441.7 710,445.7 709,449 C708,452.3 703.5,455.7 704,459 C704.5,462.3 709.8,465 712,469 C714.2,473 716.5,478.5 717,483 C717.5,487.5 715.3,491.2 715,496 C714.7,500.8 715,509.3 715,512 M308,269 C308.2,271.3 308,277.3 309,283 C310,288.7 312,297.5 314,303 C316,308.5 319.8,313.8 321,316 M347,280 C349.5,282.2 356.5,289.2 362,293 C367.5,296.8 377,301.3 380,303 M486,268 C490.3,267.2 504.3,263.7 512,263 C519.7,262.3 528.2,261.8 532,264 C535.8,266.2 533.3,271.8 535,276 C536.7,280.2 538.7,285.2 542,289 C545.3,292.8 550,295.7 555,299 C560,302.3 567.2,305.8 572,309 C576.8,312.2 580.7,315.2 584,318 C587.3,320.8 587.8,323.5 592,326 C596.2,328.5 602.8,330.8 609,333 C615.2,335.2 623,338 629,339 C635,340 639.5,339.3 645,339 C650.5,338.7 656.3,336.7 662,337 C667.7,337.3 672.8,338.3 679,341 C685.2,343.7 692.3,348.8 699,353 C705.7,357.2 712.3,361.7 719,366 C725.7,370.3 732.2,374.8 739,379 C745.8,383.2 756.5,389 760,391 M725,512 C725.7,509.3 728.3,501.2 729,496 C729.7,490.8 728.2,481 729,481 C729.8,481 732.2,494 734,496 C735.8,498 738.3,491.8 740,493 C741.7,494.2 742,499.8 744,503 C746,506.2 750.2,509.2 752,512 C753.8,514.8 753.7,517.8 755,520 C756.3,522.2 759.2,524.2 760,525 M717,512 C717.5,512.8 718.8,517 720,517 C721.2,517 723.3,512.8 724,512 M366,657 C369.2,656.3 378.8,653.3 385,653 C391.2,652.7 399.2,654 403,655 C406.8,656 408.2,657.7 408,659 C407.8,660.3 403,662.3 402,663"/>
</g>
<g id="thick">
<path class="tmp" d="M760,436 C758.3,436.5 753,437 750,439 C747,441 744.2,444.7 742,448 C739.8,451.3 737.5,455.5 737,459 C736.5,462.5 737.8,465.7 739,469 C740.2,472.3 742.2,476.2 744,479 C745.8,481.8 749,484.8 750,486 M759,630 C756.7,629 750.7,626 745,624 C739.3,622 732.2,619.3 725,618 C717.8,616.7 709.2,615.8 702,616 C694.8,616.2 688.3,617.7 682,619 C675.7,620.3 669,621.5 664,624 C659,626.5 655.7,629.8 652,634 C648.3,638.2 645.3,644.3 642,649 C638.7,653.7 635.8,658.2 632,662 C628.2,665.8 624,668.7 619,672 C614,675.3 607.7,678.7 602,682 C596.3,685.3 590.5,688.2 585,692 C579.5,695.8 574,701.2 569,705 C564,708.8 559,712.5 555,715 C551,717.5 548.8,718.5 545,720 C541.2,721.5 537.5,722.8 532,724 C526.5,725.2 516.8,726 512,727 C507.2,728 507.3,727.8 503,730 C498.7,732.2 491.7,736.7 486,740 C480.3,743.3 474,747.2 469,750 C464,752.8 458.2,755.8 456,757"/>
<path class="geo" d="M0,152.5 L2.6,154 L4.7,160 L5.2,176 L4.7,199 L2.6,206 L0,208.5 M0,389 L13,402 L23,421 L31,441 L35,453 L44,456 L57,453 L72,453 L81,462 L89,474 L95,485 L100,493 L108,510 L123,522 L133,532 L137,545 L140,565 L142,592 L143,619 L147,635 L157,652 L167,669 L173,679 L175,699 L175,715 L182,725 L192,738 L203,752 L210,760 M125,0 L127,13 L129,33 L129,60 L133,72.5 L138.5,83 L148,90 L158,94.4 L167.7,93.3 L166,101.7 L164.6,112 L163.5,122.5 L165.6,132 L172,147.5 L181,162 L188.5,170 L191.7,178 L194.8,185.6 L199,190.5 L194.8,198 L189.6,209.6 L185.2,222.5 L180,233 L174.8,247.5 L168.5,259 L159.2,269.4 L159.2,280.8 L171.7,283 L182,286 L194.6,290.2 L203,295.4 L209.2,303.8 L213.3,312 L219.6,322.5 L227.9,333 L234.2,341.3 L242.5,349.6 L250,355 L258,363 L269,372 L273,380 L283,390 L292,399 L300,403 L310,405 L314.6,409 L316.7,419.6 L322,426 L333,428 L350,427 L358,430 L369,436 L379,444.6 L387.5,453 L394,456 L399,453 L402,461 L408,467 L412.5,474 L416.7,480.6 L427,483.8 L433,486 L456,493 L462.5,497 L466.7,502.5 L466,519 L470.8,525.4 L476,532.7 L483,535.8 L491.7,541 L504,549 L516.7,557.7 L529,564.6 L541.7,566 L552,567 L579,572 L589,584 L602,597 L615,607 L635,612 L652,617 L665,624 L679,627 L695,629 L709,634 L722,645 L739,657 L752,659 L760,659 M294,0 L305.4,10.4 L318,19.8 L332.5,29 L347,34.4 L361.7,37.5 L374,41.7 L384.6,49 L396,59.4 L393,66.7 L388.8,75 L387.7,87.5 L390.8,91 L395,88 L398,83 L405,80 L420,78 L440,77 L460,79 L480,81 L496,83 L514,85 L525,93 L545,102 L572,105 L592,113 L609,125 L619,137 L635,147 L652,153 L669,153 L685,150 L699,150 L712,157 L725,167 L742,178 L760,188"/>
</g>
<g id="labels">
<text class="lbl" x="171.5" y="15.5">1021</text>
<text class="lbl" x="5.5" y="102">1016</text>
<text class="lbl" x="5" y="172">1015</text>
<text class="lbl" x="5" y="202">1015</text>
<text class="lbl" x="5" y="26">1017</text>
<text class="lbl" x="45" y="21.5">1018</text>
<text class="lbl" x="95" y="23">1020</text>
<text class="lbl" x="173" y="405">1017</text>
<text class="lbl" x="140" y="438">1016</text>
<text class="lbl" x="97" y="491">1015</text>
<text class="lbl" x="103" y="615">1014</text>
<text class="lbl" x="4.5" y="523">1013</text>
<text class="lbl" x="7.5" y="550">1013</text>
<text class="lbl" x="15" y="633">1013</text>
<text class="lbl" x="58" y="690">1013</text>
<text class="lbl" x="239.4" y="400.7">1018</text>
<text class="lbl" x="256.5" y="400.7">1019</text>
<text class="lbl" x="389" y="670">1019</text>
<text class="lbl" x="444" y="494">1020</text>
<text class="lbl" x="489" y="357">1021</text>
<text class="lbl" x="474" y="275">1022</text>
<text class="lbl" x="514" y="234">1023</text>
<text class="lbl" x="516" y="193">1024</text>
<text class="lbl" x="529" y="101">1025</text>
<text class="lbl" x="539" y="60">1026</text>
<text class="lbl" x="649" y="39">1027</text>
<text class="glb" x="738.5" y="470.5">-15</text>
<text class="glb" x="756" y="493">-15</text>
<text class="glb" x="605" y="687">-15</text>
</g>
<g id="header">
<text class="ttl" x="10.0" y="27.1" font-size="18" textLength="54.41" lengthAdjust="spacingAndGlyphs">mardi</text>
<text class="ttl" x="68.0" y="27.1" font-size="18" textLength="21.5" lengthAdjust="spacingAndGlyphs">18</text>
<text class="ttl" x="94.5" y="27.1" font-size="18" textLength="93.96" lengthAdjust="spacingAndGlyphs">novembre</text>
<text class="ttl" x="194.06" y="27.1" font-size="18" textLength="44.46" lengthAdjust="spacingAndGlyphs">2025</text>
<text class="ttl" x="11.42" y="52.6" font-size="23" textLength="56.58" lengthAdjust="spacingAndGlyphs">19:00</text>
<text class="ttl" x="77.23" y="52.6" font-size="23" textLength="66.33" lengthAdjust="spacingAndGlyphs">locale</text>
<text class="ttl" x="151.18" y="49" font-size="13.8" textLength="54.28" lengthAdjust="spacingAndGlyphs">(+336h)</text>
<text class="ttl" x="10.0" y="84.8" font-size="16.5" textLength="67.83" lengthAdjust="spacingAndGlyphs">Pression</text>
<text class="ttl" x="82.37" y="84.8" font-size="16.5" textLength="20.75" lengthAdjust="spacingAndGlyphs">au</text>
<text class="ttl" x="105.04" y="84.8" font-size="16.5" textLength="23.5" lengthAdjust="spacingAndGlyphs">sol</text>
<text class="ttl" x="132.54" y="84.8" font-size="16.5" textLength="45.54" lengthAdjust="spacingAndGlyphs">(hPa),</text>
<text class="ttl" x="181.12" y="84.8" font-size="16.5" textLength="97.0" lengthAdjust="spacingAndGlyphs">Geopotentiel</text>
<text class="ttl" x="281.52" y="84.8" font-size="16.5" textLength="42.54" lengthAdjust="spacingAndGlyphs">(dam)</text>
<text class="ttl" x="328.6" y="84.8" font-size="16.5" textLength="13.32" lengthAdjust="spacingAndGlyphs">et</text>
<text class="ttl" x="347.2" y="84.8" font-size="16.5" textLength="90.32" lengthAdjust="spacingAndGlyphs">température</text>
<text class="ttl" x="442.66" y="84.8" font-size="16.5" textLength="8.3" lengthAdjust="spacingAndGlyphs">à</text>
<text class="ttl" x="455.6" y="84.8" font-size="16.5" textLength="55.28" lengthAdjust="spacingAndGlyphs">500hPa</text>
<text class="ttl" x="516.08" y="84.8" font-size="16.5" textLength="28.46" lengthAdjust="spacingAndGlyphs">(°C)</text>
<rect x="510" y="5" width="258" height="20.5" fill="#000"/>
<text x="520.6" y="21" font-size="11" fill="#fff" textLength="214.5" lengthAdjust="spacingAndGlyphs">Run GFS 18Z du mardi 4 novembre 2025</text>
</g>
<g id="cbar">
<rect x="40" y="730" width="676" height="21" fill="#000"/>
<rect x="41" y="731" width="24" height="19" fill="#00143c"/>
<rect x="66" y="731" width="24" height="19" fill="#003264"/>
<rect x="91" y="731" width="24" height="19" fill="#003296"/>
<rect x="116" y="731" width="24" height="19" fill="#0000c8"/>
<rect x="141" y="731" width="24" height="19" fill="#0000ff"/>
<rect x="166" y="731" width="24" height="19" fill="#0032ff"/>
<rect x="191" y="731" width="24" height="19" fill="#0096ff"/>
<rect x="216" y="731" width="24" height="19" fill="#32c8ff"/>
<rect x="241" y="731" width="24" height="19" fill="#64ffff"/>
<rect x="266" y="731" width="24" height="19" fill="#64ff96"/>
<rect x="291" y="731" width="24" height="19" fill="#64ff64"/>
<rect x="316" y="731" width="24" height="19" fill="#64ff00"/>
<rect x="341" y="731" width="24" height="19" fill="#c8ff19"/>
<rect x="366" y="731" width="24" height="19" fill="#ffff00"/>
<rect x="391" y="731" width="24" height="19" fill="#ffff7d"/>
<rect x="416" y="731" width="24" height="19" fill="#ffe650"/>
<rect x="441" y="731" width="24" height="19" fill="#ffcd00"/>
<rect x="466" y="731" width="24" height="19" fill="#ff9900"/>
<rect x="491" y="731" width="24" height="19" fill="#ff6600"/>
<rect x="516" y="731" width="24" height="19" fill="#ff4c33"/>
<rect x="541" y="731" width="24" height="19" fill="#ff3300"/>
<rect x="566" y="731" width="24" height="19" fill="#ff0000"/>
<rect x="591" y="731" width="24" height="19" fill="#cc0000"/>
<rect x="616" y="731" width="24" height="19" fill="#990000"/>
<rect x="641" y="731" width="24" height="19" fill="#660000"/>
<rect x="666" y="731" width="24" height="19" fill="#4c0000"/>
<rect x="691" y="731" width="24" height="19" fill="#000000"/>
<text class="cb" x="69" y="724">500</text>
<text class="cb" x="94" y="724">504</text>
<text class="cb" x="119" y="724">508</text>
<text class="cb" x="144" y="724">512</text>
<text class="cb" x="169" y="724">516</text>
<text class="cb" x="194" y="724">520</text>
<text class="cb" x="219" y="724">524</text>
<text class="cb" x="244" y="724">528</text>
<text class="cb" x="269" y="724">532</text>
<text class="cb" x="294" y="724">536</text>
<text class="cb" x="319" y="724">540</text>
<text class="cb" x="344" y="724">544</text>
<text class="cb" x="369" y="724">548</text>
<text class="cb" x="394" y="724">552</text>
<text class="cb" x="419" y="724">556</text>
<text class="cb" x="444" y="724">560</text>
<text class="cb" x="469" y="724">564</text>
<text class="cb" x="494" y="724">568</text>
<text class="cb" x="519" y="724">572</text>
<text class="cb" x="544" y="724">576</text>
<text class="cb" x="569" y="724">580</text>
<text class="cb" x="594" y="724">584</text>
<text class="cb" x="619" y="724">588</text>
<text class="cb" x="644" y="724">592</text>
<text class="cb" x="669" y="724">596</text>
<text class="cb" x="694" y="724">600</text>
<text class="cb" x="719" y="724">604</text>
<text class="cb" x="741" y="746" font-size="12">(dam)</text>
<text class="lbl" x="425.5" y="764" font-size="11.5" text-anchor="middle" textLength="149" lengthAdjust="spacingAndGlyphs">Copyright 2025 Meteociel.fr</text>
</g>
</svg>
</body></html>
